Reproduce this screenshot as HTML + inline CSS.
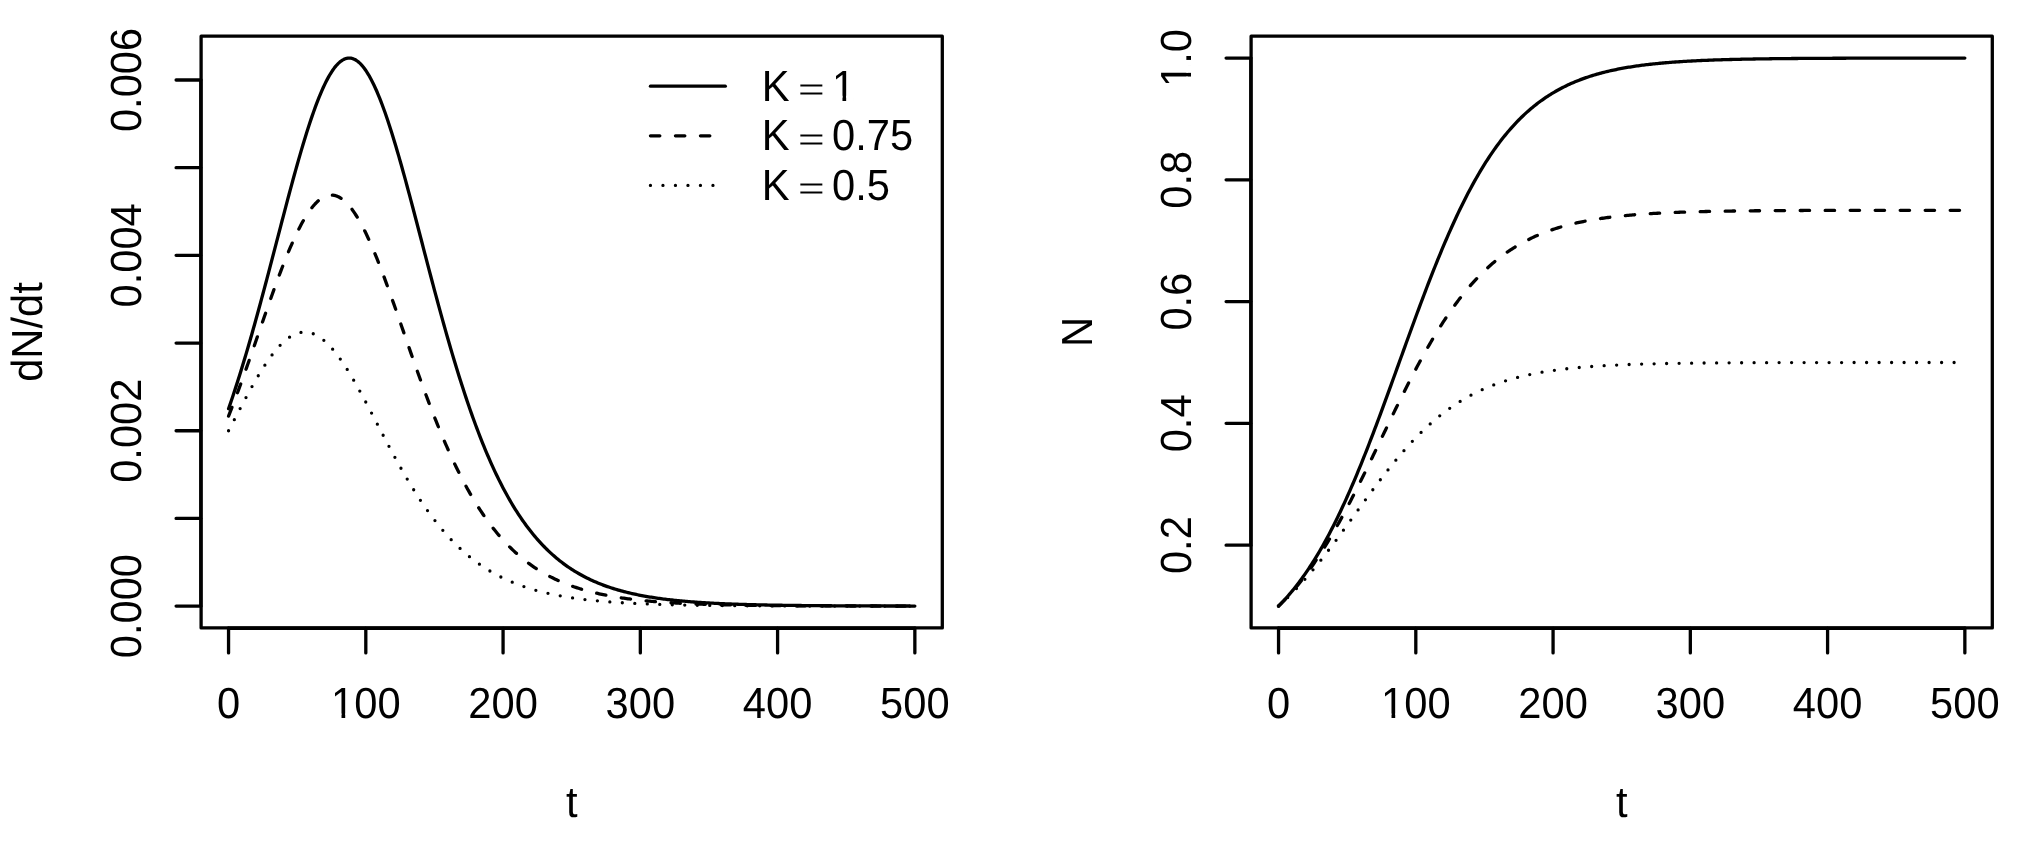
<!DOCTYPE html>
<html><head><meta charset="utf-8"><style>
html,body{margin:0;padding:0;background:#fff;}
body{width:2028px;height:843px;overflow:hidden;}
svg{display:block;will-change:transform;} text{text-rendering:geometricPrecision;}
</style></head><body>
<svg width="2028" height="843" viewBox="0 0 2028 843"><g fill="none" stroke="#000" stroke-width="3.3" stroke-linecap="round" stroke-linejoin="round"><rect x="201.10" y="36.15" width="741.20" height="591.80"/><path d="M228.55,627.95 V652.95 M365.81,627.95 V652.95 M503.07,627.95 V652.95 M640.33,627.95 V652.95 M777.59,627.95 V652.95 M914.85,627.95 V652.95 M228.55,628.25 H914.85"/><rect x="1251.10" y="36.15" width="741.20" height="591.80"/><path d="M1278.55,627.95 V652.95 M1415.81,627.95 V652.95 M1553.07,627.95 V652.95 M1690.33,627.95 V652.95 M1827.59,627.95 V652.95 M1964.85,627.95 V652.95 M1278.55,628.25 H1964.85"/><path d="M201.10,606.11 H176.10 M201.10,518.42 H176.10 M201.10,430.73 H176.10 M201.10,343.05 H176.10 M201.10,255.36 H176.10 M201.10,167.67 H176.10 M201.10,79.99 H176.10 M200.80,606.11 V79.99"/><path d="M1251.10,545.14 H1226.10 M1251.10,423.37 H1226.10 M1251.10,301.60 H1226.10 M1251.10,179.82 H1226.10 M1251.10,58.05 H1226.10 M1250.80,545.14 V58.05"/><path d="M228.55,408.81 L229.92,404.84 L231.30,400.81 L232.67,396.72 L234.04,392.58 L235.41,388.38 L236.79,384.13 L238.16,379.82 L239.53,375.46 L240.91,371.04 L242.28,366.57 L243.65,362.06 L245.02,357.49 L246.40,352.87 L247.77,348.20 L249.14,343.49 L250.51,338.73 L251.89,333.92 L253.26,329.07 L254.63,324.18 L256.00,319.25 L257.38,314.28 L258.75,309.27 L260.12,304.23 L261.49,299.16 L262.87,294.05 L264.24,288.92 L265.61,283.76 L266.98,278.58 L268.36,273.37 L269.73,268.15 L271.10,262.91 L272.47,257.66 L273.85,252.40 L275.22,247.13 L276.59,241.86 L277.97,236.58 L279.34,231.31 L280.71,226.05 L282.08,220.79 L283.46,215.55 L284.83,210.33 L286.20,205.12 L287.57,199.94 L288.95,194.79 L290.32,189.67 L291.69,184.59 L293.06,179.55 L294.44,174.55 L295.81,169.60 L297.18,164.71 L298.55,159.87 L299.93,155.09 L301.30,150.38 L302.67,145.74 L304.04,141.17 L305.42,136.69 L306.79,132.29 L308.16,127.97 L309.53,123.75 L310.91,119.62 L312.28,115.60 L313.65,111.68 L315.03,107.87 L316.40,104.17 L317.77,100.59 L319.14,97.13 L320.52,93.80 L321.89,90.59 L323.26,87.52 L324.63,84.58 L326.01,81.78 L327.38,79.13 L328.75,76.62 L330.12,74.26 L331.50,72.05 L332.87,70.00 L334.24,68.10 L335.61,66.36 L336.99,64.78 L338.36,63.36 L339.73,62.11 L341.10,61.03 L342.48,60.11 L343.85,59.36 L345.22,58.78 L346.59,58.37 L347.97,58.14 L349.34,58.07 L350.71,58.17 L352.09,58.45 L353.46,58.90 L354.83,59.51 L356.20,60.30 L357.58,61.25 L358.95,62.37 L360.32,63.66 L361.69,65.11 L363.07,66.73 L364.44,68.50 L365.81,70.44 L367.18,72.53 L368.56,74.77 L369.93,77.16 L371.30,79.71 L372.67,82.39 L374.05,85.22 L375.42,88.19 L376.79,91.29 L378.16,94.53 L379.54,97.89 L380.91,101.38 L382.28,104.98 L383.65,108.70 L385.03,112.54 L386.40,116.48 L387.77,120.53 L389.15,124.68 L390.52,128.92 L391.89,133.26 L393.26,137.68 L394.64,142.18 L396.01,146.76 L397.38,151.42 L398.75,156.15 L400.13,160.94 L401.50,165.79 L402.87,170.70 L404.24,175.66 L405.62,180.66 L406.99,185.71 L408.36,190.81 L409.73,195.93 L411.11,201.09 L412.48,206.28 L413.85,211.49 L415.22,216.72 L416.60,221.96 L417.97,227.22 L419.34,232.48 L420.71,237.76 L422.09,243.03 L423.46,248.30 L424.83,253.57 L426.21,258.83 L427.58,264.08 L428.95,269.31 L430.32,274.53 L431.70,279.73 L433.07,284.91 L434.44,290.06 L435.81,295.19 L437.19,300.29 L438.56,305.35 L439.93,310.39 L441.30,315.39 L442.68,320.35 L444.05,325.27 L445.42,330.15 L446.79,334.99 L448.17,339.79 L449.54,344.54 L450.91,349.24 L452.28,353.90 L453.66,358.51 L455.03,363.06 L456.40,367.57 L457.77,372.03 L459.15,376.43 L460.52,380.78 L461.89,385.07 L463.27,389.32 L464.64,393.50 L466.01,397.63 L467.38,401.71 L468.76,405.72 L470.13,409.69 L471.50,413.59 L472.87,417.44 L474.25,421.23 L475.62,424.96 L476.99,428.64 L478.36,432.26 L479.74,435.82 L481.11,439.33 L482.48,442.78 L483.85,446.17 L485.23,449.51 L486.60,452.79 L487.97,456.01 L489.34,459.18 L490.72,462.30 L492.09,465.36 L493.46,468.37 L494.83,471.32 L496.21,474.22 L497.58,477.06 L498.95,479.86 L500.33,482.60 L501.70,485.29 L503.07,487.94 L504.44,490.53 L505.82,493.07 L507.19,495.56 L508.56,498.01 L509.93,500.41 L511.31,502.76 L512.68,505.06 L514.05,507.32 L515.42,509.53 L516.80,511.70 L518.17,513.83 L519.54,515.91 L520.91,517.95 L522.29,519.95 L523.66,521.90 L525.03,523.82 L526.40,525.70 L527.78,527.54 L529.15,529.33 L530.52,531.10 L531.89,532.82 L533.27,534.51 L534.64,536.16 L536.01,537.77 L537.39,539.35 L538.76,540.90 L540.13,542.41 L541.50,543.89 L542.88,545.34 L544.25,546.76 L545.62,548.14 L546.99,549.50 L548.37,550.83 L549.74,552.12 L551.11,553.39 L552.48,554.63 L553.86,555.84 L555.23,557.02 L556.60,558.18 L557.97,559.31 L559.35,560.42 L560.72,561.50 L562.09,562.56 L563.46,563.59 L564.84,564.60 L566.21,565.58 L567.58,566.55 L568.95,567.49 L570.33,568.41 L571.70,569.31 L573.07,570.19 L574.45,571.04 L575.82,571.88 L577.19,572.70 L578.56,573.50 L579.94,574.28 L581.31,575.05 L582.68,575.79 L584.05,576.52 L585.43,577.23 L586.80,577.92 L588.17,578.60 L589.54,579.26 L590.92,579.91 L592.29,580.54 L593.66,581.16 L595.03,581.76 L596.41,582.35 L597.78,582.92 L599.15,583.48 L600.52,584.03 L601.90,584.56 L603.27,585.09 L604.64,585.60 L606.01,586.09 L607.39,586.58 L608.76,587.05 L610.13,587.51 L611.51,587.97 L612.88,588.41 L614.25,588.84 L615.62,589.26 L617.00,589.67 L618.37,590.07 L619.74,590.46 L621.11,590.84 L622.49,591.21 L623.86,591.57 L625.23,591.93 L626.60,592.27 L627.98,592.61 L629.35,592.94 L630.72,593.26 L632.09,593.57 L633.47,593.88 L634.84,594.18 L636.21,594.47 L637.58,594.75 L638.96,595.03 L640.33,595.30 L641.70,595.57 L643.07,595.82 L644.45,596.07 L645.82,596.32 L647.19,596.56 L648.57,596.79 L649.94,597.02 L651.31,597.24 L652.68,597.46 L654.06,597.67 L655.43,597.88 L656.80,598.08 L658.17,598.28 L659.55,598.47 L660.92,598.66 L662.29,598.84 L663.66,599.02 L665.04,599.19 L666.41,599.36 L667.78,599.53 L669.15,599.69 L670.53,599.85 L671.90,600.00 L673.27,600.15 L674.64,600.30 L676.02,600.44 L677.39,600.58 L678.76,600.71 L680.13,600.85 L681.51,600.97 L682.88,601.10 L684.25,601.22 L685.63,601.34 L687.00,601.46 L688.37,601.58 L689.74,601.69 L691.12,601.80 L692.49,601.90 L693.86,602.00 L695.23,602.11 L696.61,602.20 L697.98,602.30 L699.35,602.39 L700.72,602.48 L702.10,602.57 L703.47,602.66 L704.84,602.75 L706.21,602.83 L707.59,602.91 L708.96,602.99 L710.33,603.06 L711.70,603.14 L713.08,603.21 L714.45,603.28 L715.82,603.35 L717.19,603.42 L718.57,603.49 L719.94,603.55 L721.31,603.61 L722.69,603.68 L724.06,603.74 L725.43,603.79 L726.80,603.85 L728.18,603.91 L729.55,603.96 L730.92,604.01 L732.29,604.06 L733.67,604.12 L735.04,604.16 L736.41,604.21 L737.78,604.26 L739.16,604.30 L740.53,604.35 L741.90,604.39 L743.27,604.43 L744.65,604.48 L746.02,604.52 L747.39,604.55 L748.76,604.59 L750.14,604.63 L751.51,604.67 L752.88,604.70 L754.25,604.74 L755.63,604.77 L757.00,604.80 L758.37,604.84 L759.75,604.87 L761.12,604.90 L762.49,604.93 L763.86,604.96 L765.24,604.98 L766.61,605.01 L767.98,605.04 L769.35,605.07 L770.73,605.09 L772.10,605.12 L773.47,605.14 L774.84,605.16 L776.22,605.19 L777.59,605.21 L778.96,605.23 L780.33,605.25 L781.71,605.27 L783.08,605.30 L784.45,605.32 L785.82,605.33 L787.20,605.35 L788.57,605.37 L789.94,605.39 L791.31,605.41 L792.69,605.43 L794.06,605.44 L795.43,605.46 L796.81,605.47 L798.18,605.49 L799.55,605.50 L800.92,605.52 L802.30,605.53 L803.67,605.55 L805.04,605.56 L806.41,605.58 L807.79,605.59 L809.16,605.60 L810.53,605.61 L811.90,605.63 L813.28,605.64 L814.65,605.65 L816.02,605.66 L817.39,605.67 L818.77,605.68 L820.14,605.69 L821.51,605.70 L822.88,605.71 L824.26,605.72 L825.63,605.73 L827.00,605.74 L828.37,605.75 L829.75,605.76 L831.12,605.77 L832.49,605.78 L833.87,605.78 L835.24,605.79 L836.61,605.80 L837.98,605.81 L839.36,605.81 L840.73,605.82 L842.10,605.83 L843.47,605.84 L844.85,605.84 L846.22,605.85 L847.59,605.85 L848.96,605.86 L850.34,605.87 L851.71,605.87 L853.08,605.88 L854.45,605.88 L855.83,605.89 L857.20,605.89 L858.57,605.90 L859.94,605.91 L861.32,605.91 L862.69,605.91 L864.06,605.92 L865.43,605.92 L866.81,605.93 L868.18,605.93 L869.55,605.94 L870.93,605.94 L872.30,605.95 L873.67,605.95 L875.04,605.95 L876.42,605.96 L877.79,605.96 L879.16,605.96 L880.53,605.97 L881.91,605.97 L883.28,605.97 L884.65,605.98 L886.02,605.98 L887.40,605.98 L888.77,605.99 L890.14,605.99 L891.51,605.99 L892.89,606.00 L894.26,606.00 L895.63,606.00 L897.00,606.00 L898.38,606.01 L899.75,606.01 L901.12,606.01 L902.49,606.01 L903.87,606.02 L905.24,606.02 L906.61,606.02 L907.99,606.02 L909.36,606.02 L910.73,606.03 L912.10,606.03 L913.48,606.03 L914.85,606.03"/><path d="M228.55,416.12 L229.92,412.62 L231.30,409.08 L232.67,405.51 L234.04,401.90 L235.41,398.27 L236.79,394.60 L238.16,390.90 L239.53,387.17 L240.91,383.42 L242.28,379.64 L243.65,375.83 L245.02,372.00 L246.40,368.15 L247.77,364.28 L249.14,360.39 L250.51,356.49 L251.89,352.57 L253.26,348.64 L254.63,344.70 L256.00,340.76 L257.38,336.81 L258.75,332.85 L260.12,328.90 L261.49,324.94 L262.87,321.00 L264.24,317.06 L265.61,313.12 L266.98,309.21 L268.36,305.30 L269.73,301.42 L271.10,297.55 L272.47,293.72 L273.85,289.90 L275.22,286.12 L276.59,282.38 L277.97,278.66 L279.34,274.99 L280.71,271.37 L282.08,267.78 L283.46,264.25 L284.83,260.77 L286.20,257.35 L287.57,253.99 L288.95,250.69 L290.32,247.45 L291.69,244.29 L293.06,241.19 L294.44,238.18 L295.81,235.24 L297.18,232.38 L298.55,229.61 L299.93,226.92 L301.30,224.33 L302.67,221.83 L304.04,219.43 L305.42,217.13 L306.79,214.93 L308.16,212.83 L309.53,210.84 L310.91,208.96 L312.28,207.19 L313.65,205.54 L315.03,204.00 L316.40,202.58 L317.77,201.27 L319.14,200.09 L320.52,199.03 L321.89,198.09 L323.26,197.28 L324.63,196.60 L326.01,196.04 L327.38,195.61 L328.75,195.30 L330.12,195.13 L331.50,195.08 L332.87,195.16 L334.24,195.37 L335.61,195.70 L336.99,196.17 L338.36,196.76 L339.73,197.48 L341.10,198.32 L342.48,199.29 L343.85,200.38 L345.22,201.59 L346.59,202.93 L347.97,204.38 L349.34,205.95 L350.71,207.63 L352.09,209.43 L353.46,211.34 L354.83,213.36 L356.20,215.48 L357.58,217.71 L358.95,220.04 L360.32,222.46 L361.69,224.99 L363.07,227.60 L364.44,230.31 L365.81,233.10 L367.18,235.98 L368.56,238.94 L369.93,241.98 L371.30,245.09 L372.67,248.27 L374.05,251.52 L375.42,254.84 L376.79,258.22 L378.16,261.66 L379.54,265.15 L380.91,268.70 L382.28,272.29 L383.65,275.93 L385.03,279.61 L386.40,283.33 L387.77,287.09 L389.15,290.88 L390.52,294.70 L391.89,298.54 L393.26,302.41 L394.64,306.30 L396.01,310.21 L397.38,314.13 L398.75,318.06 L400.13,322.01 L401.50,325.96 L402.87,329.91 L404.24,333.86 L405.62,337.82 L406.99,341.77 L408.36,345.71 L409.73,349.65 L411.11,353.58 L412.48,357.49 L413.85,361.39 L415.22,365.27 L416.60,369.14 L417.97,372.98 L419.34,376.81 L420.71,380.61 L422.09,384.38 L423.46,388.13 L424.83,391.85 L426.21,395.54 L427.58,399.20 L428.95,402.83 L430.32,406.43 L431.70,409.99 L433.07,413.52 L434.44,417.01 L435.81,420.46 L437.19,423.88 L438.56,427.26 L439.93,430.60 L441.30,433.90 L442.68,437.17 L444.05,440.39 L445.42,443.57 L446.79,446.71 L448.17,449.80 L449.54,452.86 L450.91,455.87 L452.28,458.84 L453.66,461.77 L455.03,464.65 L456.40,467.50 L457.77,470.30 L459.15,473.05 L460.52,475.77 L461.89,478.44 L463.27,481.07 L464.64,483.65 L466.01,486.20 L467.38,488.70 L468.76,491.16 L470.13,493.58 L471.50,495.95 L472.87,498.29 L474.25,500.58 L475.62,502.84 L476.99,505.05 L478.36,507.23 L479.74,509.36 L481.11,511.46 L482.48,513.51 L483.85,515.53 L485.23,517.51 L486.60,519.45 L487.97,521.36 L489.34,523.23 L490.72,525.06 L492.09,526.86 L493.46,528.62 L494.83,530.35 L496.21,532.04 L497.58,533.70 L498.95,535.33 L500.33,536.92 L501.70,538.48 L503.07,540.01 L504.44,541.51 L505.82,542.98 L507.19,544.42 L508.56,545.82 L509.93,547.20 L511.31,548.55 L512.68,549.87 L514.05,551.16 L515.42,552.43 L516.80,553.66 L518.17,554.88 L519.54,556.06 L520.91,557.22 L522.29,558.36 L523.66,559.47 L525.03,560.55 L526.40,561.61 L527.78,562.65 L529.15,563.67 L530.52,564.66 L531.89,565.63 L533.27,566.58 L534.64,567.51 L536.01,568.42 L537.39,569.31 L538.76,570.18 L540.13,571.02 L541.50,571.85 L542.88,572.66 L544.25,573.46 L545.62,574.23 L546.99,574.99 L548.37,575.73 L549.74,576.45 L551.11,577.15 L552.48,577.84 L553.86,578.52 L555.23,579.18 L556.60,579.82 L557.97,580.45 L559.35,581.06 L560.72,581.66 L562.09,582.25 L563.46,582.82 L564.84,583.38 L566.21,583.92 L567.58,584.46 L568.95,584.98 L570.33,585.49 L571.70,585.98 L573.07,586.47 L574.45,586.94 L575.82,587.40 L577.19,587.85 L578.56,588.30 L579.94,588.73 L581.31,589.15 L582.68,589.56 L584.05,589.96 L585.43,590.35 L586.80,590.73 L588.17,591.10 L589.54,591.47 L590.92,591.82 L592.29,592.17 L593.66,592.51 L595.03,592.84 L596.41,593.16 L597.78,593.47 L599.15,593.78 L600.52,594.08 L601.90,594.37 L603.27,594.66 L604.64,594.94 L606.01,595.21 L607.39,595.47 L608.76,595.73 L610.13,595.99 L611.51,596.23 L612.88,596.47 L614.25,596.71 L615.62,596.94 L617.00,597.16 L618.37,597.38 L619.74,597.59 L621.11,597.80 L622.49,598.01 L623.86,598.20 L625.23,598.40 L626.60,598.59 L627.98,598.77 L629.35,598.95 L630.72,599.12 L632.09,599.29 L633.47,599.46 L634.84,599.62 L636.21,599.78 L637.58,599.94 L638.96,600.09 L640.33,600.24 L641.70,600.38 L643.07,600.52 L644.45,600.66 L645.82,600.79 L647.19,600.92 L648.57,601.05 L649.94,601.17 L651.31,601.29 L652.68,601.41 L654.06,601.53 L655.43,601.64 L656.80,601.75 L658.17,601.86 L659.55,601.96 L660.92,602.06 L662.29,602.16 L663.66,602.26 L665.04,602.35 L666.41,602.45 L667.78,602.54 L669.15,602.62 L670.53,602.71 L671.90,602.79 L673.27,602.87 L674.64,602.95 L676.02,603.03 L677.39,603.11 L678.76,603.18 L680.13,603.25 L681.51,603.32 L682.88,603.39 L684.25,603.46 L685.63,603.52 L687.00,603.59 L688.37,603.65 L689.74,603.71 L691.12,603.77 L692.49,603.83 L693.86,603.88 L695.23,603.94 L696.61,603.99 L697.98,604.04 L699.35,604.09 L700.72,604.14 L702.10,604.19 L703.47,604.24 L704.84,604.28 L706.21,604.33 L707.59,604.37 L708.96,604.42 L710.33,604.46 L711.70,604.50 L713.08,604.54 L714.45,604.58 L715.82,604.61 L717.19,604.65 L718.57,604.69 L719.94,604.72 L721.31,604.75 L722.69,604.79 L724.06,604.82 L725.43,604.85 L726.80,604.88 L728.18,604.91 L729.55,604.94 L730.92,604.97 L732.29,605.00 L733.67,605.03 L735.04,605.05 L736.41,605.08 L737.78,605.10 L739.16,605.13 L740.53,605.15 L741.90,605.18 L743.27,605.20 L744.65,605.22 L746.02,605.24 L747.39,605.26 L748.76,605.29 L750.14,605.31 L751.51,605.33 L752.88,605.34 L754.25,605.36 L755.63,605.38 L757.00,605.40 L758.37,605.42 L759.75,605.43 L761.12,605.45 L762.49,605.47 L763.86,605.48 L765.24,605.50 L766.61,605.51 L767.98,605.53 L769.35,605.54 L770.73,605.56 L772.10,605.57 L773.47,605.58 L774.84,605.60 L776.22,605.61 L777.59,605.62 L778.96,605.63 L780.33,605.64 L781.71,605.66 L783.08,605.67 L784.45,605.68 L785.82,605.69 L787.20,605.70 L788.57,605.71 L789.94,605.72 L791.31,605.73 L792.69,605.74 L794.06,605.75 L795.43,605.75 L796.81,605.76 L798.18,605.77 L799.55,605.78 L800.92,605.79 L802.30,605.80 L803.67,605.80 L805.04,605.81 L806.41,605.82 L807.79,605.83 L809.16,605.83 L810.53,605.84 L811.90,605.85 L813.28,605.85 L814.65,605.86 L816.02,605.86 L817.39,605.87 L818.77,605.88 L820.14,605.88 L821.51,605.89 L822.88,605.89 L824.26,605.90 L825.63,605.90 L827.00,605.91 L828.37,605.91 L829.75,605.92 L831.12,605.92 L832.49,605.93 L833.87,605.93 L835.24,605.94 L836.61,605.94 L837.98,605.94 L839.36,605.95 L840.73,605.95 L842.10,605.96 L843.47,605.96 L844.85,605.96 L846.22,605.97 L847.59,605.97 L848.96,605.97 L850.34,605.98 L851.71,605.98 L853.08,605.98 L854.45,605.99 L855.83,605.99 L857.20,605.99 L858.57,605.99 L859.94,606.00 L861.32,606.00 L862.69,606.00 L864.06,606.00 L865.43,606.01 L866.81,606.01 L868.18,606.01 L869.55,606.01 L870.93,606.02 L872.30,606.02 L873.67,606.02 L875.04,606.02 L876.42,606.02 L877.79,606.03 L879.16,606.03 L880.53,606.03 L881.91,606.03 L883.28,606.03 L884.65,606.04 L886.02,606.04 L887.40,606.04 L888.77,606.04 L890.14,606.04 L891.51,606.04 L892.89,606.05 L894.26,606.05 L895.63,606.05 L897.00,606.05 L898.38,606.05 L899.75,606.05 L901.12,606.05 L902.49,606.06 L903.87,606.06 L905.24,606.06 L906.61,606.06 L907.99,606.06 L909.36,606.06 L910.73,606.06 L912.10,606.06 L913.48,606.06 L914.85,606.07" stroke-dasharray="9.375 15.625"/><path d="M228.55,430.73 L229.92,428.10 L231.30,425.47 L232.67,422.83 L234.04,420.19 L235.41,417.56 L236.79,414.93 L238.16,412.30 L239.53,409.69 L240.91,407.08 L242.28,404.48 L243.65,401.90 L245.02,399.33 L246.40,396.78 L247.77,394.24 L249.14,391.73 L250.51,389.24 L251.89,386.78 L253.26,384.34 L254.63,381.94 L256.00,379.56 L257.38,377.22 L258.75,374.92 L260.12,372.65 L261.49,370.43 L262.87,368.25 L264.24,366.11 L265.61,364.02 L266.98,361.98 L268.36,359.99 L269.73,358.05 L271.10,356.17 L272.47,354.35 L273.85,352.58 L275.22,350.88 L276.59,349.24 L277.97,347.67 L279.34,346.16 L280.71,344.72 L282.08,343.36 L283.46,342.06 L284.83,340.84 L286.20,339.69 L287.57,338.62 L288.95,337.63 L290.32,336.71 L291.69,335.88 L293.06,335.12 L294.44,334.45 L295.81,333.86 L297.18,333.35 L298.55,332.93 L299.93,332.60 L301.30,332.34 L302.67,332.18 L304.04,332.09 L305.42,332.10 L306.79,332.19 L308.16,332.36 L309.53,332.62 L310.91,332.97 L312.28,333.40 L313.65,333.91 L315.03,334.51 L316.40,335.19 L317.77,335.95 L319.14,336.80 L320.52,337.72 L321.89,338.72 L323.26,339.80 L324.63,340.95 L326.01,342.18 L327.38,343.48 L328.75,344.86 L330.12,346.30 L331.50,347.82 L332.87,349.40 L334.24,351.04 L335.61,352.75 L336.99,354.52 L338.36,356.35 L339.73,358.24 L341.10,360.18 L342.48,362.17 L343.85,364.22 L345.22,366.31 L346.59,368.46 L347.97,370.64 L349.34,372.87 L350.71,375.14 L352.09,377.45 L353.46,379.79 L354.83,382.17 L356.20,384.58 L357.58,387.02 L358.95,389.48 L360.32,391.97 L361.69,394.49 L363.07,397.02 L364.44,399.57 L365.81,402.14 L367.18,404.73 L368.56,407.33 L369.93,409.94 L371.30,412.56 L372.67,415.18 L374.05,417.81 L375.42,420.45 L376.79,423.08 L378.16,425.72 L379.54,428.35 L380.91,430.99 L382.28,433.61 L383.65,436.24 L385.03,438.85 L386.40,441.46 L387.77,444.05 L389.15,446.63 L390.52,449.21 L391.89,451.76 L393.26,454.31 L394.64,456.83 L396.01,459.34 L397.38,461.83 L398.75,464.30 L400.13,466.76 L401.50,469.19 L402.87,471.60 L404.24,473.99 L405.62,476.35 L406.99,478.69 L408.36,481.01 L409.73,483.30 L411.11,485.57 L412.48,487.82 L413.85,490.03 L415.22,492.22 L416.60,494.38 L417.97,496.52 L419.34,498.63 L420.71,500.71 L422.09,502.76 L423.46,504.79 L424.83,506.78 L426.21,508.75 L427.58,510.69 L428.95,512.60 L430.32,514.49 L431.70,516.34 L433.07,518.17 L434.44,519.96 L435.81,521.73 L437.19,523.47 L438.56,525.19 L439.93,526.87 L441.30,528.53 L442.68,530.16 L444.05,531.76 L445.42,533.33 L446.79,534.87 L448.17,536.39 L449.54,537.88 L450.91,539.35 L452.28,540.79 L453.66,542.20 L455.03,543.59 L456.40,544.95 L457.77,546.28 L459.15,547.59 L460.52,548.88 L461.89,550.14 L463.27,551.37 L464.64,552.58 L466.01,553.77 L467.38,554.94 L468.76,556.08 L470.13,557.20 L471.50,558.30 L472.87,559.37 L474.25,560.42 L475.62,561.46 L476.99,562.47 L478.36,563.46 L479.74,564.43 L481.11,565.38 L482.48,566.31 L483.85,567.22 L485.23,568.11 L486.60,568.98 L487.97,569.83 L489.34,570.67 L490.72,571.49 L492.09,572.29 L493.46,573.07 L494.83,573.84 L496.21,574.59 L497.58,575.32 L498.95,576.04 L500.33,576.74 L501.70,577.42 L503.07,578.09 L504.44,578.75 L505.82,579.39 L507.19,580.02 L508.56,580.63 L509.93,581.23 L511.31,581.82 L512.68,582.39 L514.05,582.95 L515.42,583.50 L516.80,584.03 L518.17,584.56 L519.54,585.07 L520.91,585.57 L522.29,586.06 L523.66,586.53 L525.03,587.00 L526.40,587.45 L527.78,587.90 L529.15,588.33 L530.52,588.76 L531.89,589.17 L533.27,589.58 L534.64,589.97 L536.01,590.36 L537.39,590.74 L538.76,591.11 L540.13,591.47 L541.50,591.82 L542.88,592.16 L544.25,592.50 L545.62,592.83 L546.99,593.15 L548.37,593.46 L549.74,593.76 L551.11,594.06 L552.48,594.35 L553.86,594.64 L555.23,594.91 L556.60,595.19 L557.97,595.45 L559.35,595.71 L560.72,595.96 L562.09,596.21 L563.46,596.45 L564.84,596.68 L566.21,596.91 L567.58,597.13 L568.95,597.35 L570.33,597.56 L571.70,597.77 L573.07,597.97 L574.45,598.17 L575.82,598.36 L577.19,598.55 L578.56,598.74 L579.94,598.92 L581.31,599.09 L582.68,599.26 L584.05,599.43 L585.43,599.59 L586.80,599.75 L588.17,599.91 L589.54,600.06 L590.92,600.21 L592.29,600.35 L593.66,600.49 L595.03,600.63 L596.41,600.76 L597.78,600.89 L599.15,601.02 L600.52,601.14 L601.90,601.27 L603.27,601.38 L604.64,601.50 L606.01,601.61 L607.39,601.72 L608.76,601.83 L610.13,601.93 L611.51,602.04 L612.88,602.14 L614.25,602.23 L615.62,602.33 L617.00,602.42 L618.37,602.51 L619.74,602.60 L621.11,602.69 L622.49,602.77 L623.86,602.85 L625.23,602.93 L626.60,603.01 L627.98,603.09 L629.35,603.16 L630.72,603.23 L632.09,603.30 L633.47,603.37 L634.84,603.44 L636.21,603.50 L637.58,603.57 L638.96,603.63 L640.33,603.69 L641.70,603.75 L643.07,603.81 L644.45,603.86 L645.82,603.92 L647.19,603.97 L648.57,604.03 L649.94,604.08 L651.31,604.13 L652.68,604.18 L654.06,604.22 L655.43,604.27 L656.80,604.31 L658.17,604.36 L659.55,604.40 L660.92,604.44 L662.29,604.48 L663.66,604.52 L665.04,604.56 L666.41,604.60 L667.78,604.64 L669.15,604.67 L670.53,604.71 L671.90,604.74 L673.27,604.78 L674.64,604.81 L676.02,604.84 L677.39,604.87 L678.76,604.90 L680.13,604.93 L681.51,604.96 L682.88,604.99 L684.25,605.02 L685.63,605.04 L687.00,605.07 L688.37,605.10 L689.74,605.12 L691.12,605.15 L692.49,605.17 L693.86,605.19 L695.23,605.21 L696.61,605.24 L697.98,605.26 L699.35,605.28 L700.72,605.30 L702.10,605.32 L703.47,605.34 L704.84,605.36 L706.21,605.38 L707.59,605.39 L708.96,605.41 L710.33,605.43 L711.70,605.44 L713.08,605.46 L714.45,605.48 L715.82,605.49 L717.19,605.51 L718.57,605.52 L719.94,605.54 L721.31,605.55 L722.69,605.56 L724.06,605.58 L725.43,605.59 L726.80,605.60 L728.18,605.62 L729.55,605.63 L730.92,605.64 L732.29,605.65 L733.67,605.66 L735.04,605.67 L736.41,605.68 L737.78,605.69 L739.16,605.70 L740.53,605.71 L741.90,605.72 L743.27,605.73 L744.65,605.74 L746.02,605.75 L747.39,605.76 L748.76,605.77 L750.14,605.78 L751.51,605.79 L752.88,605.79 L754.25,605.80 L755.63,605.81 L757.00,605.82 L758.37,605.82 L759.75,605.83 L761.12,605.84 L762.49,605.84 L763.86,605.85 L765.24,605.86 L766.61,605.86 L767.98,605.87 L769.35,605.87 L770.73,605.88 L772.10,605.89 L773.47,605.89 L774.84,605.90 L776.22,605.90 L777.59,605.91 L778.96,605.91 L780.33,605.92 L781.71,605.92 L783.08,605.92 L784.45,605.93 L785.82,605.93 L787.20,605.94 L788.57,605.94 L789.94,605.95 L791.31,605.95 L792.69,605.95 L794.06,605.96 L795.43,605.96 L796.81,605.96 L798.18,605.97 L799.55,605.97 L800.92,605.97 L802.30,605.98 L803.67,605.98 L805.04,605.98 L806.41,605.99 L807.79,605.99 L809.16,605.99 L810.53,606.00 L811.90,606.00 L813.28,606.00 L814.65,606.00 L816.02,606.01 L817.39,606.01 L818.77,606.01 L820.14,606.01 L821.51,606.02 L822.88,606.02 L824.26,606.02 L825.63,606.02 L827.00,606.02 L828.37,606.03 L829.75,606.03 L831.12,606.03 L832.49,606.03 L833.87,606.03 L835.24,606.04 L836.61,606.04 L837.98,606.04 L839.36,606.04 L840.73,606.04 L842.10,606.04 L843.47,606.05 L844.85,606.05 L846.22,606.05 L847.59,606.05 L848.96,606.05 L850.34,606.05 L851.71,606.05 L853.08,606.05 L854.45,606.06 L855.83,606.06 L857.20,606.06 L858.57,606.06 L859.94,606.06 L861.32,606.06 L862.69,606.06 L864.06,606.06 L865.43,606.06 L866.81,606.07 L868.18,606.07 L869.55,606.07 L870.93,606.07 L872.30,606.07 L873.67,606.07 L875.04,606.07 L876.42,606.07 L877.79,606.07 L879.16,606.07 L880.53,606.07 L881.91,606.08 L883.28,606.08 L884.65,606.08 L886.02,606.08 L887.40,606.08 L888.77,606.08 L890.14,606.08 L891.51,606.08 L892.89,606.08 L894.26,606.08 L895.63,606.08 L897.00,606.08 L898.38,606.08 L899.75,606.08 L901.12,606.08 L902.49,606.08 L903.87,606.09 L905.24,606.09 L906.61,606.09 L907.99,606.09 L909.36,606.09 L910.73,606.09 L912.10,606.09 L913.48,606.09 L914.85,606.09" stroke-dasharray="0 12.500"/><path d="M1278.55,606.03 L1279.92,604.65 L1281.30,603.24 L1282.67,601.80 L1284.04,600.33 L1285.41,598.83 L1286.79,597.30 L1288.16,595.75 L1289.53,594.16 L1290.91,592.54 L1292.28,590.90 L1293.65,589.22 L1295.02,587.51 L1296.40,585.77 L1297.77,583.99 L1299.14,582.18 L1300.51,580.34 L1301.89,578.47 L1303.26,576.56 L1304.63,574.62 L1306.00,572.65 L1307.38,570.64 L1308.75,568.60 L1310.12,566.52 L1311.49,564.40 L1312.87,562.25 L1314.24,560.07 L1315.61,557.85 L1316.98,555.59 L1318.36,553.30 L1319.73,550.97 L1321.10,548.61 L1322.47,546.21 L1323.85,543.77 L1325.22,541.29 L1326.59,538.78 L1327.97,536.24 L1329.34,533.65 L1330.71,531.03 L1332.08,528.37 L1333.46,525.68 L1334.83,522.95 L1336.20,520.18 L1337.57,517.38 L1338.95,514.54 L1340.32,511.67 L1341.69,508.76 L1343.06,505.81 L1344.44,502.84 L1345.81,499.82 L1347.18,496.77 L1348.55,493.69 L1349.93,490.58 L1351.30,487.43 L1352.67,484.25 L1354.04,481.04 L1355.42,477.79 L1356.79,474.52 L1358.16,471.21 L1359.53,467.88 L1360.91,464.51 L1362.28,461.12 L1363.65,457.70 L1365.03,454.25 L1366.40,450.78 L1367.77,447.28 L1369.14,443.76 L1370.52,440.22 L1371.89,436.65 L1373.26,433.06 L1374.63,429.45 L1376.01,425.82 L1377.38,422.17 L1378.75,418.50 L1380.12,414.81 L1381.50,411.11 L1382.87,407.40 L1384.24,403.67 L1385.61,399.92 L1386.99,396.17 L1388.36,392.41 L1389.73,388.63 L1391.10,384.85 L1392.48,381.06 L1393.85,377.27 L1395.22,373.47 L1396.59,369.67 L1397.97,365.87 L1399.34,362.06 L1400.71,358.26 L1402.09,354.45 L1403.46,350.65 L1404.83,346.85 L1406.20,343.06 L1407.58,339.27 L1408.95,335.49 L1410.32,331.72 L1411.69,327.96 L1413.07,324.21 L1414.44,320.47 L1415.81,316.74 L1417.18,313.03 L1418.56,309.33 L1419.93,305.65 L1421.30,301.99 L1422.67,298.34 L1424.05,294.72 L1425.42,291.11 L1426.79,287.52 L1428.16,283.96 L1429.54,280.42 L1430.91,276.90 L1432.28,273.41 L1433.65,269.94 L1435.03,266.50 L1436.40,263.09 L1437.77,259.70 L1439.15,256.35 L1440.52,253.02 L1441.89,249.72 L1443.26,246.45 L1444.64,243.22 L1446.01,240.01 L1447.38,236.84 L1448.75,233.70 L1450.13,230.59 L1451.50,227.51 L1452.87,224.47 L1454.24,221.47 L1455.62,218.49 L1456.99,215.56 L1458.36,212.66 L1459.73,209.79 L1461.11,206.96 L1462.48,204.17 L1463.85,201.41 L1465.22,198.69 L1466.60,196.00 L1467.97,193.35 L1469.34,190.74 L1470.71,188.16 L1472.09,185.62 L1473.46,183.12 L1474.83,180.65 L1476.21,178.22 L1477.58,175.83 L1478.95,173.47 L1480.32,171.15 L1481.70,168.87 L1483.07,166.62 L1484.44,164.41 L1485.81,162.23 L1487.19,160.09 L1488.56,157.99 L1489.93,155.91 L1491.30,153.88 L1492.68,151.88 L1494.05,149.91 L1495.42,147.98 L1496.79,146.08 L1498.17,144.21 L1499.54,142.38 L1500.91,140.58 L1502.28,138.81 L1503.66,137.08 L1505.03,135.37 L1506.40,133.70 L1507.77,132.06 L1509.15,130.45 L1510.52,128.87 L1511.89,127.32 L1513.27,125.80 L1514.64,124.31 L1516.01,122.85 L1517.38,121.41 L1518.76,120.01 L1520.13,118.63 L1521.50,117.28 L1522.87,115.96 L1524.25,114.66 L1525.62,113.39 L1526.99,112.15 L1528.36,110.93 L1529.74,109.73 L1531.11,108.56 L1532.48,107.41 L1533.85,106.29 L1535.23,105.19 L1536.60,104.12 L1537.97,103.06 L1539.34,102.03 L1540.72,101.02 L1542.09,100.04 L1543.46,99.07 L1544.83,98.12 L1546.21,97.20 L1547.58,96.29 L1548.95,95.40 L1550.33,94.54 L1551.70,93.69 L1553.07,92.86 L1554.44,92.05 L1555.82,91.25 L1557.19,90.48 L1558.56,89.72 L1559.93,88.98 L1561.31,88.25 L1562.68,87.54 L1564.05,86.85 L1565.42,86.17 L1566.80,85.51 L1568.17,84.86 L1569.54,84.23 L1570.91,83.61 L1572.29,83.00 L1573.66,82.41 L1575.03,81.83 L1576.40,81.27 L1577.78,80.71 L1579.15,80.18 L1580.52,79.65 L1581.89,79.13 L1583.27,78.63 L1584.64,78.14 L1586.01,77.66 L1587.39,77.19 L1588.76,76.73 L1590.13,76.28 L1591.50,75.85 L1592.88,75.42 L1594.25,75.00 L1595.62,74.60 L1596.99,74.20 L1598.37,73.81 L1599.74,73.43 L1601.11,73.06 L1602.48,72.70 L1603.86,72.35 L1605.23,72.00 L1606.60,71.66 L1607.97,71.33 L1609.35,71.01 L1610.72,70.70 L1612.09,70.39 L1613.46,70.10 L1614.84,69.80 L1616.21,69.52 L1617.58,69.24 L1618.95,68.97 L1620.33,68.70 L1621.70,68.45 L1623.07,68.19 L1624.45,67.95 L1625.82,67.71 L1627.19,67.47 L1628.56,67.24 L1629.94,67.02 L1631.31,66.80 L1632.68,66.59 L1634.05,66.38 L1635.43,66.18 L1636.80,65.98 L1638.17,65.79 L1639.54,65.60 L1640.92,65.41 L1642.29,65.23 L1643.66,65.06 L1645.03,64.89 L1646.41,64.72 L1647.78,64.56 L1649.15,64.40 L1650.52,64.24 L1651.90,64.09 L1653.27,63.94 L1654.64,63.80 L1656.01,63.66 L1657.39,63.52 L1658.76,63.39 L1660.13,63.26 L1661.51,63.13 L1662.88,63.00 L1664.25,62.88 L1665.62,62.76 L1667.00,62.65 L1668.37,62.54 L1669.74,62.43 L1671.11,62.32 L1672.49,62.21 L1673.86,62.11 L1675.23,62.01 L1676.60,61.92 L1677.98,61.82 L1679.35,61.73 L1680.72,61.64 L1682.09,61.55 L1683.47,61.46 L1684.84,61.38 L1686.21,61.30 L1687.58,61.22 L1688.96,61.14 L1690.33,61.06 L1691.70,60.99 L1693.07,60.92 L1694.45,60.85 L1695.82,60.78 L1697.19,60.71 L1698.57,60.65 L1699.94,60.58 L1701.31,60.52 L1702.68,60.46 L1704.06,60.40 L1705.43,60.34 L1706.80,60.29 L1708.17,60.23 L1709.55,60.18 L1710.92,60.12 L1712.29,60.07 L1713.66,60.02 L1715.04,59.97 L1716.41,59.93 L1717.78,59.88 L1719.15,59.84 L1720.53,59.79 L1721.90,59.75 L1723.27,59.71 L1724.64,59.67 L1726.02,59.63 L1727.39,59.59 L1728.76,59.55 L1730.13,59.51 L1731.51,59.48 L1732.88,59.44 L1734.25,59.41 L1735.63,59.37 L1737.00,59.34 L1738.37,59.31 L1739.74,59.28 L1741.12,59.25 L1742.49,59.22 L1743.86,59.19 L1745.23,59.16 L1746.61,59.13 L1747.98,59.11 L1749.35,59.08 L1750.72,59.06 L1752.10,59.03 L1753.47,59.01 L1754.84,58.98 L1756.21,58.96 L1757.59,58.94 L1758.96,58.92 L1760.33,58.89 L1761.70,58.87 L1763.08,58.85 L1764.45,58.83 L1765.82,58.81 L1767.19,58.79 L1768.57,58.78 L1769.94,58.76 L1771.31,58.74 L1772.69,58.72 L1774.06,58.71 L1775.43,58.69 L1776.80,58.67 L1778.18,58.66 L1779.55,58.64 L1780.92,58.63 L1782.29,58.62 L1783.67,58.60 L1785.04,58.59 L1786.41,58.57 L1787.78,58.56 L1789.16,58.55 L1790.53,58.54 L1791.90,58.52 L1793.27,58.51 L1794.65,58.50 L1796.02,58.49 L1797.39,58.48 L1798.76,58.47 L1800.14,58.46 L1801.51,58.45 L1802.88,58.44 L1804.25,58.43 L1805.63,58.42 L1807.00,58.41 L1808.37,58.40 L1809.75,58.39 L1811.12,58.38 L1812.49,58.38 L1813.86,58.37 L1815.24,58.36 L1816.61,58.35 L1817.98,58.34 L1819.35,58.34 L1820.73,58.33 L1822.10,58.32 L1823.47,58.32 L1824.84,58.31 L1826.22,58.30 L1827.59,58.30 L1828.96,58.29 L1830.33,58.28 L1831.71,58.28 L1833.08,58.27 L1834.45,58.27 L1835.82,58.26 L1837.20,58.26 L1838.57,58.25 L1839.94,58.25 L1841.31,58.24 L1842.69,58.24 L1844.06,58.23 L1845.43,58.23 L1846.81,58.22 L1848.18,58.22 L1849.55,58.21 L1850.92,58.21 L1852.30,58.21 L1853.67,58.20 L1855.04,58.20 L1856.41,58.20 L1857.79,58.19 L1859.16,58.19 L1860.53,58.18 L1861.90,58.18 L1863.28,58.18 L1864.65,58.17 L1866.02,58.17 L1867.39,58.17 L1868.77,58.17 L1870.14,58.16 L1871.51,58.16 L1872.88,58.16 L1874.26,58.15 L1875.63,58.15 L1877.00,58.15 L1878.37,58.15 L1879.75,58.14 L1881.12,58.14 L1882.49,58.14 L1883.87,58.14 L1885.24,58.14 L1886.61,58.13 L1887.98,58.13 L1889.36,58.13 L1890.73,58.13 L1892.10,58.12 L1893.47,58.12 L1894.85,58.12 L1896.22,58.12 L1897.59,58.12 L1898.96,58.12 L1900.34,58.11 L1901.71,58.11 L1903.08,58.11 L1904.45,58.11 L1905.83,58.11 L1907.20,58.11 L1908.57,58.11 L1909.94,58.10 L1911.32,58.10 L1912.69,58.10 L1914.06,58.10 L1915.43,58.10 L1916.81,58.10 L1918.18,58.10 L1919.55,58.09 L1920.93,58.09 L1922.30,58.09 L1923.67,58.09 L1925.04,58.09 L1926.42,58.09 L1927.79,58.09 L1929.16,58.09 L1930.53,58.09 L1931.91,58.09 L1933.28,58.08 L1934.65,58.08 L1936.02,58.08 L1937.40,58.08 L1938.77,58.08 L1940.14,58.08 L1941.51,58.08 L1942.89,58.08 L1944.26,58.08 L1945.63,58.08 L1947.00,58.08 L1948.38,58.08 L1949.75,58.07 L1951.12,58.07 L1952.49,58.07 L1953.87,58.07 L1955.24,58.07 L1956.61,58.07 L1957.99,58.07 L1959.36,58.07 L1960.73,58.07 L1962.10,58.07 L1963.48,58.07 L1964.85,58.07"/><path d="M1278.55,606.03 L1279.92,604.70 L1281.30,603.34 L1282.67,601.96 L1284.04,600.56 L1285.41,599.13 L1286.79,597.67 L1288.16,596.19 L1289.53,594.68 L1290.91,593.15 L1292.28,591.59 L1293.65,590.00 L1295.02,588.39 L1296.40,586.75 L1297.77,585.09 L1299.14,583.40 L1300.51,581.68 L1301.89,579.93 L1303.26,578.15 L1304.63,576.35 L1306.00,574.52 L1307.38,572.67 L1308.75,570.78 L1310.12,568.87 L1311.49,566.93 L1312.87,564.97 L1314.24,562.98 L1315.61,560.95 L1316.98,558.91 L1318.36,556.83 L1319.73,554.73 L1321.10,552.60 L1322.47,550.44 L1323.85,548.26 L1325.22,546.05 L1326.59,543.82 L1327.97,541.56 L1329.34,539.27 L1330.71,536.96 L1332.08,534.62 L1333.46,532.26 L1334.83,529.88 L1336.20,527.47 L1337.57,525.03 L1338.95,522.58 L1340.32,520.10 L1341.69,517.59 L1343.06,515.07 L1344.44,512.53 L1345.81,509.96 L1347.18,507.38 L1348.55,504.77 L1349.93,502.15 L1351.30,499.51 L1352.67,496.85 L1354.04,494.17 L1355.42,491.48 L1356.79,488.77 L1358.16,486.04 L1359.53,483.31 L1360.91,480.56 L1362.28,477.79 L1363.65,475.02 L1365.03,472.23 L1366.40,469.43 L1367.77,466.63 L1369.14,463.81 L1370.52,460.99 L1371.89,458.16 L1373.26,455.32 L1374.63,452.48 L1376.01,449.63 L1377.38,446.79 L1378.75,443.93 L1380.12,441.08 L1381.50,438.23 L1382.87,435.37 L1384.24,432.52 L1385.61,429.67 L1386.99,426.82 L1388.36,423.98 L1389.73,421.14 L1391.10,418.30 L1392.48,415.47 L1393.85,412.65 L1395.22,409.84 L1396.59,407.04 L1397.97,404.24 L1399.34,401.46 L1400.71,398.68 L1402.09,395.92 L1403.46,393.18 L1404.83,390.44 L1406.20,387.72 L1407.58,385.02 L1408.95,382.33 L1410.32,379.66 L1411.69,377.00 L1413.07,374.36 L1414.44,371.74 L1415.81,369.14 L1417.18,366.56 L1418.56,364.00 L1419.93,361.47 L1421.30,358.95 L1422.67,356.45 L1424.05,353.98 L1425.42,351.53 L1426.79,349.10 L1428.16,346.70 L1429.54,344.32 L1430.91,341.96 L1432.28,339.63 L1433.65,337.33 L1435.03,335.05 L1436.40,332.79 L1437.77,330.56 L1439.15,328.36 L1440.52,326.19 L1441.89,324.04 L1443.26,321.91 L1444.64,319.82 L1446.01,317.75 L1447.38,315.71 L1448.75,313.70 L1450.13,311.71 L1451.50,309.75 L1452.87,307.82 L1454.24,305.92 L1455.62,304.04 L1456.99,302.19 L1458.36,300.37 L1459.73,298.57 L1461.11,296.81 L1462.48,295.07 L1463.85,293.35 L1465.22,291.67 L1466.60,290.01 L1467.97,288.38 L1469.34,286.77 L1470.71,285.19 L1472.09,283.64 L1473.46,282.11 L1474.83,280.61 L1476.21,279.14 L1477.58,277.69 L1478.95,276.26 L1480.32,274.86 L1481.70,273.49 L1483.07,272.14 L1484.44,270.82 L1485.81,269.52 L1487.19,268.24 L1488.56,266.98 L1489.93,265.75 L1491.30,264.55 L1492.68,263.36 L1494.05,262.20 L1495.42,261.06 L1496.79,259.94 L1498.17,258.85 L1499.54,257.77 L1500.91,256.72 L1502.28,255.69 L1503.66,254.67 L1505.03,253.68 L1506.40,252.71 L1507.77,251.76 L1509.15,250.82 L1510.52,249.91 L1511.89,249.01 L1513.27,248.14 L1514.64,247.28 L1516.01,246.43 L1517.38,245.61 L1518.76,244.80 L1520.13,244.01 L1521.50,243.24 L1522.87,242.48 L1524.25,241.74 L1525.62,241.02 L1526.99,240.31 L1528.36,239.62 L1529.74,238.94 L1531.11,238.27 L1532.48,237.62 L1533.85,236.99 L1535.23,236.36 L1536.60,235.76 L1537.97,235.16 L1539.34,234.58 L1540.72,234.01 L1542.09,233.45 L1543.46,232.91 L1544.83,232.38 L1546.21,231.86 L1547.58,231.35 L1548.95,230.85 L1550.33,230.37 L1551.70,229.89 L1553.07,229.43 L1554.44,228.97 L1555.82,228.53 L1557.19,228.10 L1558.56,227.67 L1559.93,227.26 L1561.31,226.85 L1562.68,226.46 L1564.05,226.07 L1565.42,225.70 L1566.80,225.33 L1568.17,224.97 L1569.54,224.62 L1570.91,224.27 L1572.29,223.94 L1573.66,223.61 L1575.03,223.29 L1576.40,222.98 L1577.78,222.67 L1579.15,222.37 L1580.52,222.08 L1581.89,221.80 L1583.27,221.52 L1584.64,221.25 L1586.01,220.98 L1587.39,220.73 L1588.76,220.47 L1590.13,220.23 L1591.50,219.99 L1592.88,219.75 L1594.25,219.52 L1595.62,219.30 L1596.99,219.08 L1598.37,218.87 L1599.74,218.66 L1601.11,218.45 L1602.48,218.25 L1603.86,218.06 L1605.23,217.87 L1606.60,217.69 L1607.97,217.51 L1609.35,217.33 L1610.72,217.16 L1612.09,216.99 L1613.46,216.83 L1614.84,216.67 L1616.21,216.51 L1617.58,216.36 L1618.95,216.21 L1620.33,216.07 L1621.70,215.92 L1623.07,215.79 L1624.45,215.65 L1625.82,215.52 L1627.19,215.39 L1628.56,215.27 L1629.94,215.14 L1631.31,215.03 L1632.68,214.91 L1634.05,214.80 L1635.43,214.69 L1636.80,214.58 L1638.17,214.47 L1639.54,214.37 L1640.92,214.27 L1642.29,214.17 L1643.66,214.07 L1645.03,213.98 L1646.41,213.89 L1647.78,213.80 L1649.15,213.71 L1650.52,213.63 L1651.90,213.55 L1653.27,213.47 L1654.64,213.39 L1656.01,213.31 L1657.39,213.24 L1658.76,213.16 L1660.13,213.09 L1661.51,213.02 L1662.88,212.96 L1664.25,212.89 L1665.62,212.83 L1667.00,212.76 L1668.37,212.70 L1669.74,212.64 L1671.11,212.58 L1672.49,212.53 L1673.86,212.47 L1675.23,212.42 L1676.60,212.36 L1677.98,212.31 L1679.35,212.26 L1680.72,212.21 L1682.09,212.17 L1683.47,212.12 L1684.84,212.07 L1686.21,212.03 L1687.58,211.99 L1688.96,211.94 L1690.33,211.90 L1691.70,211.86 L1693.07,211.82 L1694.45,211.78 L1695.82,211.75 L1697.19,211.71 L1698.57,211.67 L1699.94,211.64 L1701.31,211.61 L1702.68,211.57 L1704.06,211.54 L1705.43,211.51 L1706.80,211.48 L1708.17,211.45 L1709.55,211.42 L1710.92,211.39 L1712.29,211.36 L1713.66,211.34 L1715.04,211.31 L1716.41,211.28 L1717.78,211.26 L1719.15,211.23 L1720.53,211.21 L1721.90,211.19 L1723.27,211.16 L1724.64,211.14 L1726.02,211.12 L1727.39,211.10 L1728.76,211.08 L1730.13,211.06 L1731.51,211.04 L1732.88,211.02 L1734.25,211.00 L1735.63,210.98 L1737.00,210.97 L1738.37,210.95 L1739.74,210.93 L1741.12,210.92 L1742.49,210.90 L1743.86,210.88 L1745.23,210.87 L1746.61,210.85 L1747.98,210.84 L1749.35,210.83 L1750.72,210.81 L1752.10,210.80 L1753.47,210.78 L1754.84,210.77 L1756.21,210.76 L1757.59,210.75 L1758.96,210.74 L1760.33,210.72 L1761.70,210.71 L1763.08,210.70 L1764.45,210.69 L1765.82,210.68 L1767.19,210.67 L1768.57,210.66 L1769.94,210.65 L1771.31,210.64 L1772.69,210.63 L1774.06,210.62 L1775.43,210.61 L1776.80,210.61 L1778.18,210.60 L1779.55,210.59 L1780.92,210.58 L1782.29,210.57 L1783.67,210.57 L1785.04,210.56 L1786.41,210.55 L1787.78,210.54 L1789.16,210.54 L1790.53,210.53 L1791.90,210.52 L1793.27,210.52 L1794.65,210.51 L1796.02,210.51 L1797.39,210.50 L1798.76,210.49 L1800.14,210.49 L1801.51,210.48 L1802.88,210.48 L1804.25,210.47 L1805.63,210.47 L1807.00,210.46 L1808.37,210.46 L1809.75,210.45 L1811.12,210.45 L1812.49,210.44 L1813.86,210.44 L1815.24,210.43 L1816.61,210.43 L1817.98,210.43 L1819.35,210.42 L1820.73,210.42 L1822.10,210.41 L1823.47,210.41 L1824.84,210.41 L1826.22,210.40 L1827.59,210.40 L1828.96,210.40 L1830.33,210.39 L1831.71,210.39 L1833.08,210.39 L1834.45,210.38 L1835.82,210.38 L1837.20,210.38 L1838.57,210.38 L1839.94,210.37 L1841.31,210.37 L1842.69,210.37 L1844.06,210.37 L1845.43,210.36 L1846.81,210.36 L1848.18,210.36 L1849.55,210.36 L1850.92,210.35 L1852.30,210.35 L1853.67,210.35 L1855.04,210.35 L1856.41,210.35 L1857.79,210.34 L1859.16,210.34 L1860.53,210.34 L1861.90,210.34 L1863.28,210.34 L1864.65,210.33 L1866.02,210.33 L1867.39,210.33 L1868.77,210.33 L1870.14,210.33 L1871.51,210.33 L1872.88,210.32 L1874.26,210.32 L1875.63,210.32 L1877.00,210.32 L1878.37,210.32 L1879.75,210.32 L1881.12,210.32 L1882.49,210.32 L1883.87,210.31 L1885.24,210.31 L1886.61,210.31 L1887.98,210.31 L1889.36,210.31 L1890.73,210.31 L1892.10,210.31 L1893.47,210.31 L1894.85,210.31 L1896.22,210.30 L1897.59,210.30 L1898.96,210.30 L1900.34,210.30 L1901.71,210.30 L1903.08,210.30 L1904.45,210.30 L1905.83,210.30 L1907.20,210.30 L1908.57,210.30 L1909.94,210.30 L1911.32,210.30 L1912.69,210.29 L1914.06,210.29 L1915.43,210.29 L1916.81,210.29 L1918.18,210.29 L1919.55,210.29 L1920.93,210.29 L1922.30,210.29 L1923.67,210.29 L1925.04,210.29 L1926.42,210.29 L1927.79,210.29 L1929.16,210.29 L1930.53,210.29 L1931.91,210.29 L1933.28,210.29 L1934.65,210.28 L1936.02,210.28 L1937.40,210.28 L1938.77,210.28 L1940.14,210.28 L1941.51,210.28 L1942.89,210.28 L1944.26,210.28 L1945.63,210.28 L1947.00,210.28 L1948.38,210.28 L1949.75,210.28 L1951.12,210.28 L1952.49,210.28 L1953.87,210.28 L1955.24,210.28 L1956.61,210.28 L1957.99,210.28 L1959.36,210.28 L1960.73,210.28 L1962.10,210.28 L1963.48,210.28 L1964.85,210.28" stroke-dasharray="9.375 15.625"/><path d="M1278.55,606.03 L1279.92,604.80 L1281.30,603.56 L1282.67,602.30 L1284.04,601.01 L1285.41,599.71 L1286.79,598.40 L1288.16,597.06 L1289.53,595.70 L1290.91,594.33 L1292.28,592.94 L1293.65,591.53 L1295.02,590.10 L1296.40,588.66 L1297.77,587.20 L1299.14,585.72 L1300.51,584.22 L1301.89,582.71 L1303.26,581.17 L1304.63,579.63 L1306.00,578.06 L1307.38,576.48 L1308.75,574.88 L1310.12,573.27 L1311.49,571.64 L1312.87,570.00 L1314.24,568.34 L1315.61,566.66 L1316.98,564.98 L1318.36,563.27 L1319.73,561.56 L1321.10,559.83 L1322.47,558.09 L1323.85,556.33 L1325.22,554.57 L1326.59,552.79 L1327.97,551.00 L1329.34,549.20 L1330.71,547.39 L1332.08,545.57 L1333.46,543.74 L1334.83,541.90 L1336.20,540.06 L1337.57,538.20 L1338.95,536.34 L1340.32,534.48 L1341.69,532.60 L1343.06,530.72 L1344.44,528.84 L1345.81,526.95 L1347.18,525.06 L1348.55,523.16 L1349.93,521.26 L1351.30,519.36 L1352.67,517.46 L1354.04,515.56 L1355.42,513.66 L1356.79,511.76 L1358.16,509.85 L1359.53,507.95 L1360.91,506.06 L1362.28,504.16 L1363.65,502.27 L1365.03,500.38 L1366.40,498.50 L1367.77,496.62 L1369.14,494.75 L1370.52,492.88 L1371.89,491.02 L1373.26,489.17 L1374.63,487.32 L1376.01,485.48 L1377.38,483.66 L1378.75,481.84 L1380.12,480.03 L1381.50,478.23 L1382.87,476.44 L1384.24,474.66 L1385.61,472.90 L1386.99,471.15 L1388.36,469.41 L1389.73,467.68 L1391.10,465.96 L1392.48,464.26 L1393.85,462.58 L1395.22,460.90 L1396.59,459.25 L1397.97,457.60 L1399.34,455.98 L1400.71,454.36 L1402.09,452.77 L1403.46,451.19 L1404.83,449.63 L1406.20,448.08 L1407.58,446.55 L1408.95,445.04 L1410.32,443.54 L1411.69,442.06 L1413.07,440.60 L1414.44,439.16 L1415.81,437.73 L1417.18,436.33 L1418.56,434.94 L1419.93,433.57 L1421.30,432.21 L1422.67,430.88 L1424.05,429.56 L1425.42,428.26 L1426.79,426.98 L1428.16,425.72 L1429.54,424.48 L1430.91,423.25 L1432.28,422.05 L1433.65,420.86 L1435.03,419.69 L1436.40,418.53 L1437.77,417.40 L1439.15,416.28 L1440.52,415.19 L1441.89,414.11 L1443.26,413.04 L1444.64,412.00 L1446.01,410.97 L1447.38,409.96 L1448.75,408.97 L1450.13,407.99 L1451.50,407.03 L1452.87,406.09 L1454.24,405.16 L1455.62,404.25 L1456.99,403.36 L1458.36,402.48 L1459.73,401.62 L1461.11,400.78 L1462.48,399.95 L1463.85,399.14 L1465.22,398.34 L1466.60,397.55 L1467.97,396.79 L1469.34,396.03 L1470.71,395.29 L1472.09,394.57 L1473.46,393.86 L1474.83,393.16 L1476.21,392.48 L1477.58,391.81 L1478.95,391.15 L1480.32,390.51 L1481.70,389.88 L1483.07,389.26 L1484.44,388.66 L1485.81,388.07 L1487.19,387.49 L1488.56,386.92 L1489.93,386.36 L1491.30,385.82 L1492.68,385.29 L1494.05,384.76 L1495.42,384.25 L1496.79,383.75 L1498.17,383.26 L1499.54,382.79 L1500.91,382.32 L1502.28,381.86 L1503.66,381.41 L1505.03,380.97 L1506.40,380.54 L1507.77,380.12 L1509.15,379.71 L1510.52,379.31 L1511.89,378.92 L1513.27,378.53 L1514.64,378.16 L1516.01,377.79 L1517.38,377.43 L1518.76,377.08 L1520.13,376.73 L1521.50,376.40 L1522.87,376.07 L1524.25,375.75 L1525.62,375.44 L1526.99,375.13 L1528.36,374.83 L1529.74,374.54 L1531.11,374.25 L1532.48,373.97 L1533.85,373.70 L1535.23,373.43 L1536.60,373.17 L1537.97,372.92 L1539.34,372.67 L1540.72,372.42 L1542.09,372.19 L1543.46,371.95 L1544.83,371.73 L1546.21,371.51 L1547.58,371.29 L1548.95,371.08 L1550.33,370.87 L1551.70,370.67 L1553.07,370.47 L1554.44,370.28 L1555.82,370.09 L1557.19,369.91 L1558.56,369.73 L1559.93,369.56 L1561.31,369.39 L1562.68,369.22 L1564.05,369.06 L1565.42,368.90 L1566.80,368.74 L1568.17,368.59 L1569.54,368.44 L1570.91,368.30 L1572.29,368.16 L1573.66,368.02 L1575.03,367.89 L1576.40,367.75 L1577.78,367.63 L1579.15,367.50 L1580.52,367.38 L1581.89,367.26 L1583.27,367.14 L1584.64,367.03 L1586.01,366.92 L1587.39,366.81 L1588.76,366.71 L1590.13,366.60 L1591.50,366.50 L1592.88,366.41 L1594.25,366.31 L1595.62,366.22 L1596.99,366.13 L1598.37,366.04 L1599.74,365.95 L1601.11,365.87 L1602.48,365.78 L1603.86,365.70 L1605.23,365.62 L1606.60,365.55 L1607.97,365.47 L1609.35,365.40 L1610.72,365.33 L1612.09,365.26 L1613.46,365.19 L1614.84,365.12 L1616.21,365.06 L1617.58,365.00 L1618.95,364.93 L1620.33,364.87 L1621.70,364.82 L1623.07,364.76 L1624.45,364.70 L1625.82,364.65 L1627.19,364.60 L1628.56,364.54 L1629.94,364.49 L1631.31,364.44 L1632.68,364.40 L1634.05,364.35 L1635.43,364.30 L1636.80,364.26 L1638.17,364.21 L1639.54,364.17 L1640.92,364.13 L1642.29,364.09 L1643.66,364.05 L1645.03,364.01 L1646.41,363.97 L1647.78,363.94 L1649.15,363.90 L1650.52,363.87 L1651.90,363.83 L1653.27,363.80 L1654.64,363.77 L1656.01,363.74 L1657.39,363.71 L1658.76,363.68 L1660.13,363.65 L1661.51,363.62 L1662.88,363.59 L1664.25,363.56 L1665.62,363.54 L1667.00,363.51 L1668.37,363.48 L1669.74,363.46 L1671.11,363.44 L1672.49,363.41 L1673.86,363.39 L1675.23,363.37 L1676.60,363.35 L1677.98,363.32 L1679.35,363.30 L1680.72,363.28 L1682.09,363.26 L1683.47,363.24 L1684.84,363.23 L1686.21,363.21 L1687.58,363.19 L1688.96,363.17 L1690.33,363.16 L1691.70,363.14 L1693.07,363.12 L1694.45,363.11 L1695.82,363.09 L1697.19,363.08 L1698.57,363.06 L1699.94,363.05 L1701.31,363.03 L1702.68,363.02 L1704.06,363.01 L1705.43,362.99 L1706.80,362.98 L1708.17,362.97 L1709.55,362.96 L1710.92,362.95 L1712.29,362.93 L1713.66,362.92 L1715.04,362.91 L1716.41,362.90 L1717.78,362.89 L1719.15,362.88 L1720.53,362.87 L1721.90,362.86 L1723.27,362.85 L1724.64,362.84 L1726.02,362.83 L1727.39,362.83 L1728.76,362.82 L1730.13,362.81 L1731.51,362.80 L1732.88,362.79 L1734.25,362.79 L1735.63,362.78 L1737.00,362.77 L1738.37,362.76 L1739.74,362.76 L1741.12,362.75 L1742.49,362.74 L1743.86,362.74 L1745.23,362.73 L1746.61,362.72 L1747.98,362.72 L1749.35,362.71 L1750.72,362.71 L1752.10,362.70 L1753.47,362.70 L1754.84,362.69 L1756.21,362.69 L1757.59,362.68 L1758.96,362.68 L1760.33,362.67 L1761.70,362.67 L1763.08,362.66 L1764.45,362.66 L1765.82,362.65 L1767.19,362.65 L1768.57,362.65 L1769.94,362.64 L1771.31,362.64 L1772.69,362.63 L1774.06,362.63 L1775.43,362.63 L1776.80,362.62 L1778.18,362.62 L1779.55,362.62 L1780.92,362.61 L1782.29,362.61 L1783.67,362.61 L1785.04,362.60 L1786.41,362.60 L1787.78,362.60 L1789.16,362.59 L1790.53,362.59 L1791.90,362.59 L1793.27,362.59 L1794.65,362.58 L1796.02,362.58 L1797.39,362.58 L1798.76,362.58 L1800.14,362.57 L1801.51,362.57 L1802.88,362.57 L1804.25,362.57 L1805.63,362.57 L1807.00,362.56 L1808.37,362.56 L1809.75,362.56 L1811.12,362.56 L1812.49,362.56 L1813.86,362.55 L1815.24,362.55 L1816.61,362.55 L1817.98,362.55 L1819.35,362.55 L1820.73,362.55 L1822.10,362.54 L1823.47,362.54 L1824.84,362.54 L1826.22,362.54 L1827.59,362.54 L1828.96,362.54 L1830.33,362.54 L1831.71,362.53 L1833.08,362.53 L1834.45,362.53 L1835.82,362.53 L1837.20,362.53 L1838.57,362.53 L1839.94,362.53 L1841.31,362.53 L1842.69,362.53 L1844.06,362.52 L1845.43,362.52 L1846.81,362.52 L1848.18,362.52 L1849.55,362.52 L1850.92,362.52 L1852.30,362.52 L1853.67,362.52 L1855.04,362.52 L1856.41,362.52 L1857.79,362.52 L1859.16,362.51 L1860.53,362.51 L1861.90,362.51 L1863.28,362.51 L1864.65,362.51 L1866.02,362.51 L1867.39,362.51 L1868.77,362.51 L1870.14,362.51 L1871.51,362.51 L1872.88,362.51 L1874.26,362.51 L1875.63,362.51 L1877.00,362.51 L1878.37,362.51 L1879.75,362.50 L1881.12,362.50 L1882.49,362.50 L1883.87,362.50 L1885.24,362.50 L1886.61,362.50 L1887.98,362.50 L1889.36,362.50 L1890.73,362.50 L1892.10,362.50 L1893.47,362.50 L1894.85,362.50 L1896.22,362.50 L1897.59,362.50 L1898.96,362.50 L1900.34,362.50 L1901.71,362.50 L1903.08,362.50 L1904.45,362.50 L1905.83,362.50 L1907.20,362.50 L1908.57,362.50 L1909.94,362.50 L1911.32,362.50 L1912.69,362.50 L1914.06,362.49 L1915.43,362.49 L1916.81,362.49 L1918.18,362.49 L1919.55,362.49 L1920.93,362.49 L1922.30,362.49 L1923.67,362.49 L1925.04,362.49 L1926.42,362.49 L1927.79,362.49 L1929.16,362.49 L1930.53,362.49 L1931.91,362.49 L1933.28,362.49 L1934.65,362.49 L1936.02,362.49 L1937.40,362.49 L1938.77,362.49 L1940.14,362.49 L1941.51,362.49 L1942.89,362.49 L1944.26,362.49 L1945.63,362.49 L1947.00,362.49 L1948.38,362.49 L1949.75,362.49 L1951.12,362.49 L1952.49,362.49 L1953.87,362.49 L1955.24,362.49 L1956.61,362.49 L1957.99,362.49 L1959.36,362.49 L1960.73,362.49 L1962.10,362.49 L1963.48,362.49 L1964.85,362.49" stroke-dasharray="0 12.500"/><path d="M650.45,86.15 H725.3"/><path d="M650.45,135.85 H725.3" stroke-dasharray="9.375 15.625"/><path d="M650.45,185.45 H725.3" stroke-dasharray="0 12.500"/></g><g font-family="Liberation Sans, Arial, sans-serif" font-size="43.5" fill="#000"><g transform="translate(228.55,718.40) scale(0.9579,1)"><text text-anchor="middle">0</text></g><g transform="translate(365.81,718.40) scale(0.9579,1)"><text text-anchor="middle">100</text><g fill="#fff"><rect x="-33.83" y="-4.85" width="8.47" height="6.05"/><rect x="-21.51" y="-4.85" width="8.14" height="6.05"/></g></g><g transform="translate(503.07,718.40) scale(0.9579,1)"><text text-anchor="middle">200</text></g><g transform="translate(640.33,718.40) scale(0.9579,1)"><text text-anchor="middle">300</text></g><g transform="translate(777.59,718.40) scale(0.9579,1)"><text text-anchor="middle">400</text></g><g transform="translate(914.85,718.40) scale(0.9579,1)"><text text-anchor="middle">500</text></g><g transform="translate(571.70,817.30) scale(0.9579,1)"><text text-anchor="middle">t</text></g><g transform="translate(1278.55,718.40) scale(0.9579,1)"><text text-anchor="middle">0</text></g><g transform="translate(1415.81,718.40) scale(0.9579,1)"><text text-anchor="middle">100</text><g fill="#fff"><rect x="-33.83" y="-4.85" width="8.47" height="6.05"/><rect x="-21.51" y="-4.85" width="8.14" height="6.05"/></g></g><g transform="translate(1553.07,718.40) scale(0.9579,1)"><text text-anchor="middle">200</text></g><g transform="translate(1690.33,718.40) scale(0.9579,1)"><text text-anchor="middle">300</text></g><g transform="translate(1827.59,718.40) scale(0.9579,1)"><text text-anchor="middle">400</text></g><g transform="translate(1964.85,718.40) scale(0.9579,1)"><text text-anchor="middle">500</text></g><g transform="translate(1621.70,817.30) scale(0.9579,1)"><text text-anchor="middle">t</text></g><g transform="translate(141.20,606.11) rotate(-90) scale(0.9579,1)"><text text-anchor="middle">0.000</text></g><g transform="translate(141.20,430.73) rotate(-90) scale(0.9579,1)"><text text-anchor="middle">0.002</text></g><g transform="translate(141.20,255.36) rotate(-90) scale(0.9579,1)"><text text-anchor="middle">0.004</text></g><g transform="translate(141.20,79.99) rotate(-90) scale(0.9579,1)"><text text-anchor="middle">0.006</text></g><g transform="translate(1191.20,545.14) rotate(-90) scale(0.9579,1)"><text text-anchor="middle">0.2</text></g><g transform="translate(1191.20,423.37) rotate(-90) scale(0.9579,1)"><text text-anchor="middle">0.4</text></g><g transform="translate(1191.20,301.60) rotate(-90) scale(0.9579,1)"><text text-anchor="middle">0.6</text></g><g transform="translate(1191.20,179.82) rotate(-90) scale(0.9579,1)"><text text-anchor="middle">0.8</text></g><g transform="translate(1191.20,58.05) rotate(-90) scale(0.9579,1)"><text text-anchor="middle">1.0</text><g fill="#fff"><rect x="-27.77" y="-4.85" width="8.47" height="6.05"/><rect x="-15.45" y="-4.85" width="8.14" height="6.05"/></g></g><g transform="translate(42.10,332.05) rotate(-90) scale(0.9579,1)"><text text-anchor="middle">dN/dt</text></g><g transform="translate(1092.10,332.05) rotate(-90) scale(0.9579,1)"><text text-anchor="middle">N</text></g><g transform="translate(761.70,100.60) scale(0.9579,1)"><text text-anchor="start">K</text></g><g transform="translate(832.00,100.60) scale(0.9579,1)"><text text-anchor="start">1</text><g fill="#fff"><rect x="2.46" y="-4.85" width="8.47" height="6.05"/><rect x="14.78" y="-4.85" width="8.14" height="6.05"/></g></g><g transform="translate(761.70,150.20) scale(0.9579,1)"><text text-anchor="start">K</text></g><g transform="translate(832.00,150.20) scale(0.9579,1)"><text text-anchor="start">0.75</text></g><g transform="translate(761.70,199.85) scale(0.9579,1)"><text text-anchor="start">K</text></g><g transform="translate(832.00,199.85) scale(0.9579,1)"><text text-anchor="start">0.5</text></g></g><g font-family="Liberation Serif, serif" font-size="40.5" fill="#000"><text transform="translate(797.90,102.90) scale(1.1674,1)">=</text><text transform="translate(797.90,152.50) scale(1.1674,1)">=</text><text transform="translate(797.90,202.15) scale(1.1674,1)">=</text></g></svg>
</body></html>
